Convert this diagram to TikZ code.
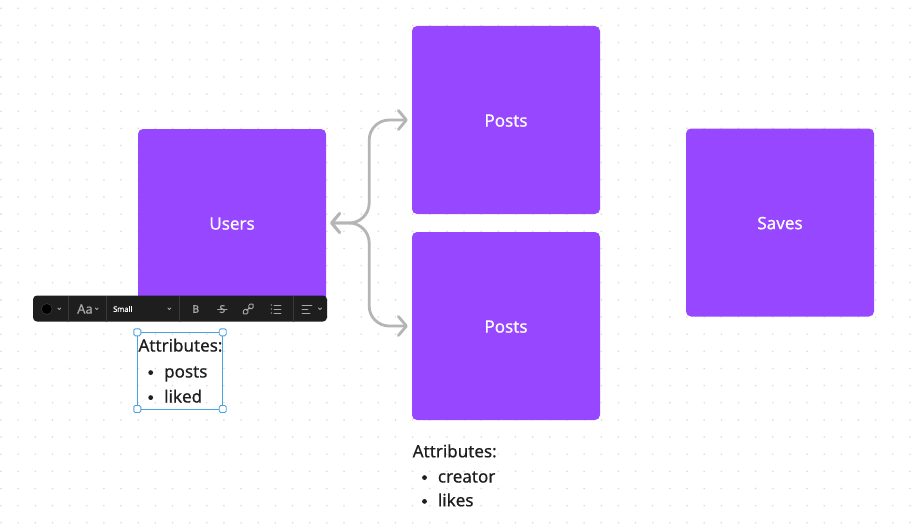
\documentclass[tikz,border=0pt]{standalone}
\usepackage{fontspec}
\setmainfont{Noto Sans}[RawFeature={embolden=0.5}]
\usetikzlibrary{arrows.meta}
\definecolor{purp}{HTML}{9747FF}
\definecolor{connc}{HTML}{B5B5B5}
\definecolor{ink}{HTML}{1E1E1E}
\definecolor{selblue}{HTML}{4AA3DF}
\definecolor{tbar}{HTML}{1E1E1E}
\definecolor{tgray}{HTML}{A8A8A8}
\definecolor{tsep}{HTML}{3A3A3A}
\definecolor{dotc}{HTML}{DCDCDC}
\begin{document}
\begin{tikzpicture}[x=1pt,y=-1pt,
  entity/.style={fill=purp, rounded corners=5pt, minimum width=188pt, minimum height=188pt, inner sep=0pt},
  elabel/.style={text=white, inner sep=0pt, font=\fontsize{17}{20}\selectfont},
  link/.style={draw=connc, line width=2.8pt, rounded corners=20pt, line cap=round, line join=round,
    {Straight Barb[length=8pt,width=19pt,line cap=round,line join=round]}-{Straight Barb[length=8pt,width=19pt,line cap=round,line join=round]}},
  attr/.style={anchor=base west, inner sep=0pt, text=ink, font=\fontsize{17}{20}\selectfont},
  bul/.style={fill=ink},
  handle/.style={draw=selblue, fill=white, line width=0.9pt, rounded corners=1.5pt, minimum size=7pt, inner sep=0pt},
  tsepline/.style={draw=tsep, line width=0.7pt},
  caret/.style={draw=tgray, line width=0.8pt, line cap=round, line join=round},
  icon/.style={draw=tgray, line width=0.9pt, line cap=round}
]
\useasboundingbox (0,0) rectangle (912,524);
\fill[white] (0,0) rectangle (912,524);
\foreach \i in {0,...,53} {\foreach \j in {0,...,30} {\fill[dotc] (1+17.15*\i, 8.3+17.15*\j) circle (0.9pt);}}

% entities
\node[entity] (users) at (232,223) {};
\node[entity] (posta) at (506,120) {};
\node[entity] (postb) at (506,326) {};
\node[entity] (saves) at (780,222.5) {};
\node[elabel] (usersl) at ([yshift=-0.6pt]users.center) {Users};
\node[elabel] (postal) at ([yshift=-0.6pt]posta.center) {Posts};
\node[elabel] (postbl) at ([yshift=-0.6pt]postb.center) {Posts};
\node[elabel] (savesl) at ([yshift=-0.6pt]saves.center) {Saves};

% connectors
\draw[link] ([xshift=4pt]users.east) -- ++(39,0) |- ([xshift=-4pt]posta.west);
\draw[link] ([xshift=4pt]users.east) -- ++(39,0) |- ([xshift=-4pt]postb.west);

% toolbar
\node[fill=tbar, rounded corners=4pt, minimum width=294pt, minimum height=26pt, inner sep=0pt] (toolbar) at (180,308.5) {};
\node[circle, fill=black, draw=tsep, line width=0.6pt, minimum size=11pt, inner sep=0pt] (swatch) at (46.7,309) {};
\draw[caret] (57.8,308) -- (59.3,309.5) -- (60.8,308);
\draw[tsepline] (68.3,295.5) -- (68.3,321.5);
\node[text=tgray, inner sep=0pt, font=\fontsize{13}{13}\selectfont] (aa) at (85,309) {Aa};
\draw[caret] (95.2,308) -- (96.7,309.5) -- (98.2,308);
\draw[tsepline] (106,295.5) -- (106,321.5);
\node[text=white, inner sep=0pt, anchor=west, font=\fontsize{7.5}{8}\bfseries\selectfont] (small) at (113,309) {Small};
\draw[caret] (167.8,308) -- (169.3,309.5) -- (170.8,308);
\draw[tsepline] (179,295.5) -- (179,321.5);
\node[text=tgray, inner sep=0pt, font=\fontsize{10.5}{11}\selectfont] (bold) at (195.7,309) {B};
\node[text=tgray, inner sep=0pt, font=\fontsize{10.5}{11}\selectfont] (strike) at (222.3,309) {S};
\draw[icon, line width=0.7pt] (217.5,309.2) -- (227.1,309.2);
\begin{scope}[shift={(248.3,309)}, rotate=45]
  \draw[icon, rounded corners=1.8pt] (-1,-2.2) rectangle (-6.5,2.2);
  \draw[icon, rounded corners=1.8pt] (1,-2.2) rectangle (6.5,2.2);
  \draw[icon] (-2.2,0) -- (2.2,0);
\end{scope}
\foreach \yy in {305,309,313} {
  \fill[tgray] (271.3,\yy) circle (0.7pt);
  \draw[icon, line width=0.8pt] (274,\yy) -- (281,\yy);
}
\draw[tsepline] (293,295.5) -- (293,321.5);
\draw[icon, line width=0.8pt] (302,305) -- (312,305);
\draw[icon, line width=0.8pt] (302,309) -- (308,309);
\draw[icon, line width=0.8pt] (302,313) -- (310,313);
\draw[caret] (318.5,308) -- (320,309.5) -- (321.5,308);

% selected text block
\draw[draw=selblue, line width=0.9pt] (137.3,332.3) rectangle (222.7,409);
\node[handle] (h1) at (137.3,332.3) {};
\node[handle] (h2) at (222.7,332.3) {};
\node[handle] (h3) at (137.3,409) {};
\node[handle] (h4) at (222.7,409) {};
\node[attr] (ua) at (138.3,351.5) {Attributes:};
\fill[bul] (150.7,372.6) circle (2.4pt);
\node[attr] (ub) at (164,377.5) {posts};
\fill[bul] (150.7,397.6) circle (2.4pt);
\node[attr] (uc) at (164,402.5) {liked};

% posts attributes
\node[attr] (pa) at (412.5,457.3) {Attributes:};
\fill[bul] (424.5,477.6) circle (2.4pt);
\node[attr] (pb) at (437.7,482.5) {creator};
\fill[bul] (424.5,501.4) circle (2.4pt);
\node[attr] (pc) at (437.7,506.3) {likes};
\end{tikzpicture}
\end{document}
